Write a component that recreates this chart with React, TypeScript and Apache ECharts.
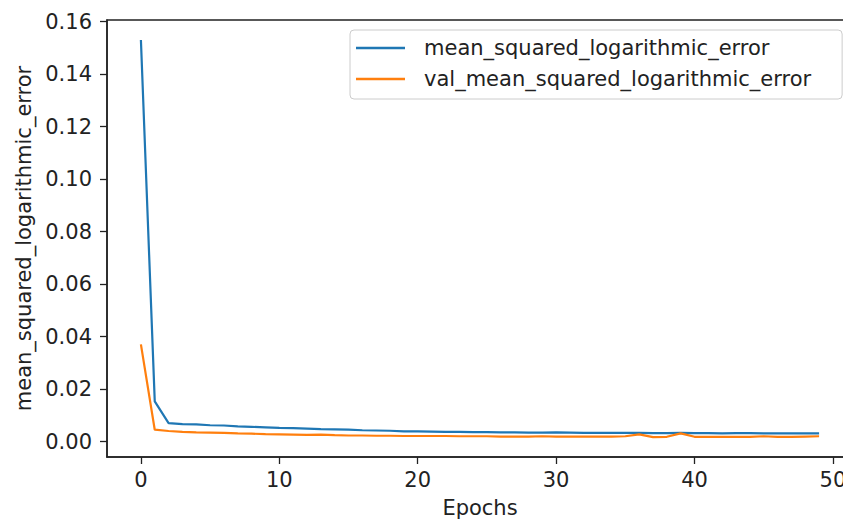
import React, { useEffect, useRef } from "react";
import * as echarts from "echarts";

const epochs: number[] = Array.from({ length: 50 }, (_, i) => i);

const msle: number[] = [
  0.153, 0.0153, 0.007, 0.0066, 0.0065, 0.0062, 0.0061, 0.0058, 0.0056, 0.0054,
  0.0052, 0.0051, 0.0049, 0.0047, 0.0046, 0.0045, 0.0043, 0.0042, 0.0041, 0.0039,
  0.0039, 0.0038, 0.0037, 0.0037, 0.0036, 0.0036, 0.0035, 0.0035, 0.0034, 0.0034,
  0.0035, 0.0034, 0.0033, 0.0033, 0.0033, 0.0033, 0.0033, 0.0032, 0.0032, 0.0033,
  0.0032, 0.0032, 0.0031, 0.0032, 0.0032, 0.0031, 0.0031, 0.0031, 0.0031, 0.0031,
];

const valMsle: number[] = [
  0.037, 0.0045, 0.004, 0.0037, 0.0035, 0.0034, 0.0033, 0.0031, 0.003, 0.0028,
  0.0027, 0.0026, 0.0025, 0.0026, 0.0024, 0.0023, 0.0023, 0.0022, 0.0022, 0.0021,
  0.0021, 0.0021, 0.0021, 0.002, 0.002, 0.002, 0.0019, 0.0019, 0.0019, 0.002,
  0.0019, 0.0019, 0.0019, 0.0019, 0.0019, 0.002, 0.0027, 0.0017, 0.0018, 0.0031,
  0.0018, 0.0018, 0.0018, 0.0018, 0.0018, 0.002, 0.0018, 0.0018, 0.0019, 0.002,
];

const xTicks: number[] = [0, 10, 20, 30, 40, 50];
const yTicks: number[] = [0, 0.02, 0.04, 0.06, 0.08, 0.1, 0.12, 0.14, 0.16];

const seriesNames = ["mean_squared_logarithmic_error", "val_mean_squared_logarithmic_error"];
const colors = ["#1f77b4", "#ff7f0e"];

const FONT = "DejaVu Sans";
const FS = 21;

export default function App() {
  const ref = useRef<HTMLDivElement>(null);
  useEffect(() => {
    if (!ref.current) return;
    const chart = echarts.init(ref.current, undefined, { renderer: "svg" });
    const axisCommon = {
      axisLine: { show: true, onZero: false, lineStyle: { color: "#222", width: 1.5 } },
      axisTick: { show: true, length: 7, lineStyle: { color: "#222", width: 1.3 } },
      splitLine: { show: false },
    };
    chart.setOption({
      animation: false,
      backgroundColor: "#ffffff",
      textStyle: { fontFamily: FONT },
      grid: {
        left: 107,
        top: 20,
        width: 746,
        height: 437,
        show: true,
        borderColor: "#222",
        borderWidth: 1.5,
        containLabel: false,
        outerBoundsMode: "none",
      },
      legend: {
        orient: "vertical",
        left: 350,
        top: 30,
        padding: [7, 31, 9, 6],
        itemWidth: 49,
        itemHeight: 2.5,
        itemGap: 9,
        icon: "rect",
        borderColor: "#cccccc",
        borderWidth: 1,
        borderRadius: 4,
        backgroundColor: "rgba(255,255,255,0.8)",
        data: seriesNames,
        textStyle: { fontFamily: FONT, fontSize: FS, color: "#222", lineHeight: 22, padding: [0, 0, 0, 14] },
      },
      xAxis: {
        type: "value",
        min: -2.45,
        max: 51.45,
        name: "Epochs",
        nameLocation: "middle",
        nameGap: 40,
        nameTextStyle: { fontFamily: FONT, fontSize: FS, color: "#222" },
        ...axisCommon,
        axisTick: { ...axisCommon.axisTick, customValues: xTicks },
        axisLabel: { customValues: xTicks, margin: 12, fontFamily: FONT, fontSize: FS, color: "#222", showMinLabel: true, showMaxLabel: true },
      },
      yAxis: {
        type: "value",
        min: -0.0059,
        max: 0.1606,
        name: "mean_squared_logarithmic_error",
        nameLocation: "middle",
        nameGap: 72,
        nameTextStyle: { fontFamily: FONT, fontSize: FS, color: "#222" },
        ...axisCommon,
        axisTick: { ...axisCommon.axisTick, customValues: yTicks },
        axisLabel: {
          customValues: yTicks,
          margin: 15,
          fontFamily: FONT,
          fontSize: FS,
          color: "#222",
          formatter: (v: number) => v.toFixed(2),
        },
      },
      series: [
        {
          name: seriesNames[0],
          type: "line",
          data: epochs.map((e, i) => [e, msle[i]]),
          showSymbol: false,
          symbol: "none",
          lineStyle: { color: colors[0], width: 2.2 },
          itemStyle: { color: colors[0] },
        },
        {
          name: seriesNames[1],
          type: "line",
          data: epochs.map((e, i) => [e, valMsle[i]]),
          showSymbol: false,
          symbol: "none",
          lineStyle: { color: colors[1], width: 2.2 },
          itemStyle: { color: colors[1] },
        },
      ],
    });
    return () => chart.dispose();
  }, []);
  return <div ref={ref} style={{ position: "fixed", left: 0, top: 0, width: 843, height: 523 }} />;
}
